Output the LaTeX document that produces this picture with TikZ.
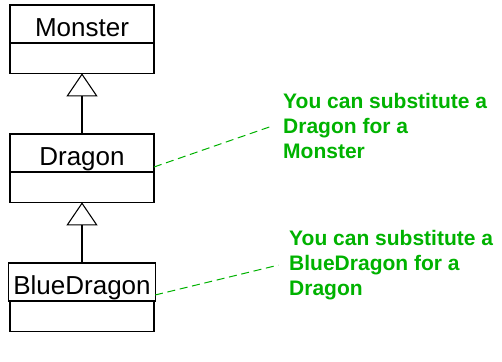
\documentclass[tikz,border=0pt]{standalone}
\usepackage{fontspec}
\setmainfont{Liberation Sans}
\usetikzlibrary{positioning,arrows.meta}
\definecolor{notegreen}{RGB}{0,178,0}

\tikzset{
  classname/.style={draw, line width=0.8pt, outer sep=0pt, inner ysep=0pt,
    minimum width=108pt, minimum height=28.5pt, text height=18pt, text depth=0pt,
    font=\fontsize{19.5}{22}\selectfont},
  classbody/.style={draw, line width=0.8pt, outer sep=0pt,
    minimum width=108pt, minimum height=22.75pt},
  inherits/.style={line width=0.8pt, -{Triangle[open, width=23.25pt, length=17.25pt]}},
  note/.style={align=left, inner xsep=8pt, inner ysep=0pt, text=notegreen,
    font=\fontsize{15.75}{18.75}\selectfont\bfseries},
  notelink/.style={notegreen, line width=0.75pt, dash pattern=on 6pt off 3.5pt}
}

\begin{document}
\begin{tikzpicture}[x=0.75pt, y=-0.75pt, node distance=45.5pt]
\useasboundingbox (0,0) rectangle (502,361);
% classes
\node[classname, anchor=north] (monster) at (82,5) {Monster};
\node[classbody, below=0pt of monster] (monster-body) {};
\node[classname, below=of monster-body] (dragon) {Dragon};
\node[classbody, below=0pt of dragon] (dragon-body) {};
\node[classname, below=of dragon-body] (bluedragon) {BlueDragon};
\node[classbody, below=0pt of bluedragon] (bluedragon-body) {};
% generalisation
\draw[inherits] (dragon.north) -- (monster-body.south);
\draw[inherits] (bluedragon.north) -- (dragon-body.south);
% notes
\node[note, anchor=north west] (note-dragon) at (272.3,93)
  {You can substitute a\\Dragon for a\\Monster};
\node[note, anchor=north west] (note-bluedragon) at (278.3,230)
  {You can substitute a\\BlueDragon for a\\Dragon};
\draw[notelink] ([yshift=3.75pt]dragon.south east) -- (note-dragon.west);
\draw[notelink] ([yshift=4.5pt]bluedragon.south east) -- (note-bluedragon.west);
\end{tikzpicture}
\end{document}
